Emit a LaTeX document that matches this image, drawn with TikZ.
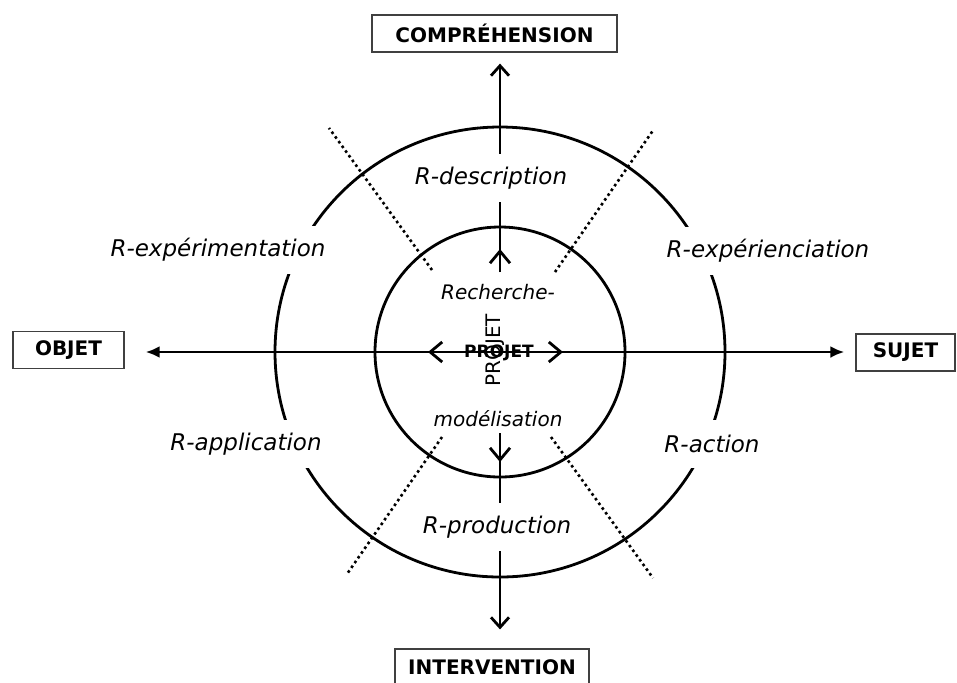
\documentclass[tikz,border=0pt]{standalone}
\usepackage{fontspec}
\setmainfont{DejaVu Sans}
\usetikzlibrary{arrows.meta}

\tikzset{
  axe/.style={line width=1.4pt},
  barbe/.style={-{Straight Barb[length=5pt,width=9pt]}},
  pointe/.style={{Latex[length=7pt,width=6pt]}-{Latex[length=7pt,width=6pt]}},
  fleche/.style={-{Straight Barb[length=6pt,width=10pt]}},
  pole/.style={draw=black!75, line width=0.6pt, font=\bfseries\fontsize{10}{12}\selectfont, minimum height=18.5pt, inner sep=2pt},
  lab/.style={fill=white, font=\itshape\fontsize{11.5}{13}\selectfont, minimum height=24pt, inner sep=2pt},
  inlab/.style={font=\itshape\fontsize{10}{12}\selectfont, inner sep=1pt},
  sep/.style={line width=1.3pt, dash pattern=on 1.3pt off 1.6pt},
}

\begin{document}
\begin{tikzpicture}[x=0.5pt,y=-0.5pt]
        \useasboundingbox (0,0) rectangle (957,682);
        % basics
        \coordinate (c) at (500,352);
        \coordinate (ch) at (500,272);
        \coordinate (cb) at (500,433);

        % poles
        \node[pole, minimum width=122.5pt] (comp) at (494.5,33.5) {COMPRÉHENSION};
        \node[pole, minimum width=97pt] (inter) at (492,667.5) {INTERVENTION};
        \node[pole, minimum width=55.5pt] (objet) at (68.5,350) {OBJET};
        \node[pole, minimum width=49.5pt] (sujet) at (905.5,352.5) {SUJET};

        % vertical axis
        \draw[axe, barbe, shorten >=5.5pt] (ch) -- (ch |- comp.south);
        \draw[axe, barbe, shorten >=9.5pt] (cb) -- (cb |- inter.north);

        % circles
        \draw[axe] (c) circle[radius=112.5pt]; % outer
        \draw[axe] (c) circle[radius=62.5pt]; % inner

        % dotted separators
        \draw[sep] (432,270) -- (329,128);
        \draw[sep] (555,272) -- (654,129);
        \draw[sep] (442,437) -- (347,574);
        \draw[sep] (551,437) -- (653,578);

        % labels
        \node[lab] (rdesc) at (491,178) {R-description};
        \node[lab] (rprod) at (497,527) {R-production};
        \node[lab] (rexpm) at (218,250) {R-expérimentation};
        \node[lab] (rexpc) at (768,251) {R-expérienciation};
        \node[lab] (rappl) at (246,444) {R-application};
        \node[lab] (ract) at (712,444) {R-action};

        % horizontal axis
        \draw[axe, pointe, shorten <=10.5pt, shorten >=5.5pt] (objet.east |- c) -- (sujet.west |- c);

        %% inner arrows
        \coordinate (ph) at (500,249);
        \coordinate (pb) at (500,462);
        \coordinate (pg) at (428,352);
        \coordinate (pd) at (563,352);
        \draw[axe, fleche] (ch) -- (ph);
        \draw[axe, fleche] (cb) -- (pb);
        \draw[axe, fleche] (c) -- (pg);
        \draw[axe, fleche] (c) -- (pd);

        %% centre
        \node[inlab] (rech) at (498,292) {Recherche-};
        \node[inlab] (modl) at (498,419) {modélisation};
        \node[font=\fontsize{10}{12}\selectfont, rotate=90, inner sep=0pt] (projv) at (495,350) {PROJET};
        \node[font=\bfseries\fontsize{8.5}{10}\selectfont, inner sep=0pt] (projh) at (499,353) {PROJET};
\end{tikzpicture}
\end{document}
